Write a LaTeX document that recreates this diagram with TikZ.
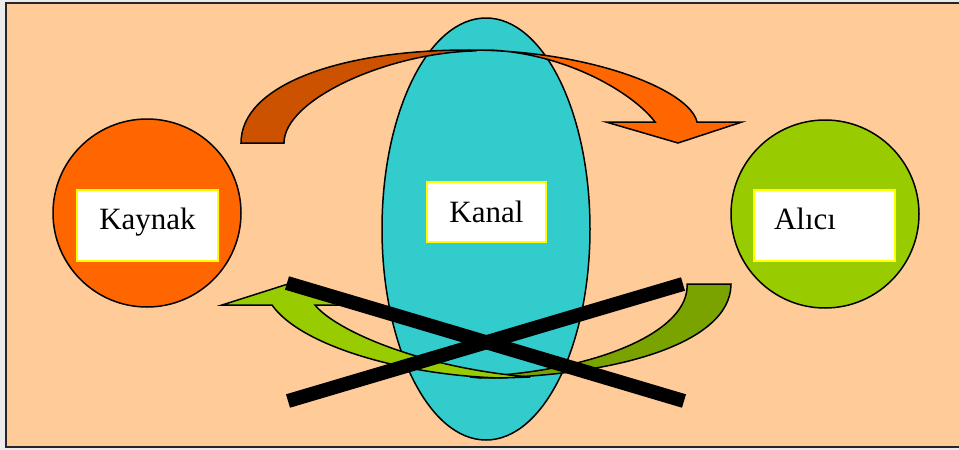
\documentclass[tikz,border=0pt]{standalone}
\usepackage{fontspec}
\setmainfont{Liberation Serif}
\usetikzlibrary{shapes.geometric}
\definecolor{zemin}{HTML}{FFCC99}
\definecolor{kenar}{HTML}{EBEBEB}
\definecolor{turuncu}{HTML}{FF6600}
\definecolor{koyuturuncu}{HTML}{CC5200}
\definecolor{yesil}{HTML}{99CC00}
\definecolor{koyuyesil}{HTML}{7AA300}
\definecolor{turkuaz}{HTML}{33CCCC}
\definecolor{sari}{HTML}{FFFF00}
\tikzset{
  daire/.style={circle,draw=black,line width=1.5pt,minimum size=188pt,inner sep=0pt},
  kutu/.style={draw=sari,line width=2pt,fill=white,font=\fontsize{31}{36}\selectfont,
               minimum width=141pt,minimum height=71pt,text height=21pt,text depth=14pt},
  sekil/.style={draw=black,line width=1.5pt,line join=miter},
  carpi/.style={line width=14pt,black},
}
\begin{document}
\begin{tikzpicture}[x=1pt,y=-1pt]
  \useasboundingbox[fill=kenar] (0,0) rectangle (959,450);
  \draw[fill=zemin,line width=2pt,draw=black!85] (6,2.5) rectangle (975,447);
  \node[ellipse,draw=black,line width=1.5pt,fill=turkuaz,minimum width=208pt,minimum height=422pt,inner sep=0pt] (kanal) at (486,229) {};
  \node[daire,fill=turuncu] (kaynak) at (147,213) {};
  \node[daire,fill=yesil] (alici) at (825,214) {};
  \node[kutu] (kaynakkutu) at (147.5,225.5) {Kaynak};
  \node[kutu,text width=101pt,inner xsep=20pt,align=left] (alicikutu) at (824.5,225.5) {Alıcı};
  \node[kutu,minimum width=119pt,minimum height=60pt,text depth=0pt] (kanalkutu) at (486.5,212) {Kanal};
  \draw[sekil,fill=koyuturuncu] (241,143) .. controls (241,85) and (340,50) .. (468,50) -- (472,51) .. controls (385,54) and (284,100) .. (284,143) -- cycle;
  \draw[sekil,fill=turuncu] (468,50) .. controls (590,50) and (690,90) .. (697,122) -- (742,122) -- (678,143) -- (606,122) -- (655,122) .. controls (635,95) and (570,54) .. (490,50) -- cycle;
  \draw[sekil,fill=koyuyesil] (731,284) .. controls (731,345) and (610,377) .. (480,378) -- (470,377) .. controls (600,372) and (690,330) .. (687,284) -- cycle;
  \draw[sekil,fill=yesil] (222,305) -- (288,284) -- (362,305) -- (315,305) .. controls (335,330) and (420,368) .. (530,377) -- (500,378) .. controls (400,375) and (300,345) .. (272,305) -- cycle;
  \coordinate (solust) at (287,283);
  \coordinate (sagalt) at (684,401);
  \coordinate (solalt) at (288,401);
  \coordinate (sagust) at (683,284);
  \draw[carpi] (solust) -- (sagalt);
  \draw[carpi] (solalt) -- (sagust);
\end{tikzpicture}
\end{document}
